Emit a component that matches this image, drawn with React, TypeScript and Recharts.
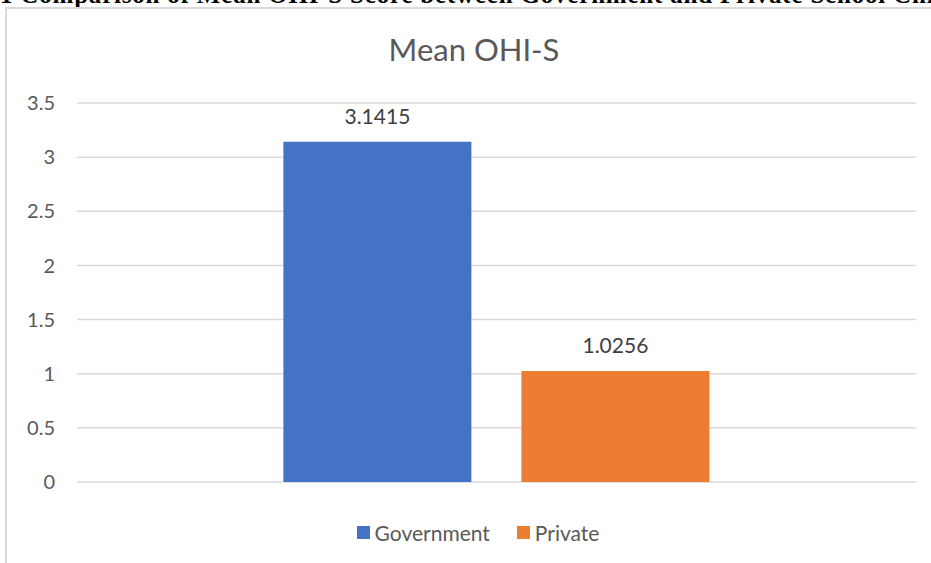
import React from 'react';
import { BarChart, Bar, XAxis, YAxis, CartesianGrid, Legend, LabelList } from 'recharts';

const categories = ['Mean OHI-S'];
const governmentValues = [3.1415];
const privateValues = [1.0256];
const yTicks = [0, 0.5, 1, 1.5, 2, 2.5, 3, 3.5];

const data = categories.map((name, i) => ({
  name,
  Government: governmentValues[i],
  Private: privateValues[i],
}));

const font = 'Lato, "Open Sans", "Liberation Sans", sans-serif';

function LegendContent({ payload }: any) {
  return (
    <div
      style={{
        height: 62,
        paddingLeft: 40,
        boxSizing: 'border-box',
        display: 'flex',
        alignItems: 'flex-end',
        justifyContent: 'center',
      }}
    >
      {(payload || []).map((p: any, i: number) => (
        <div
          key={p.value}
          style={{ display: 'flex', alignItems: 'center', marginLeft: i === 0 ? 0 : 27, height: 24 }}
        >
          <span style={{ width: 13, height: 13, background: p.color, display: 'inline-block', marginRight: 5 }} />
          <span style={{ fontFamily: font, fontSize: 21, color: '#595959' }}>{p.value}</span>
        </div>
      ))}
    </div>
  );
}

export default function App() {
  return (
    <div style={{ position: 'absolute', left: 0, top: 0, width: 931, height: 563, overflow: 'hidden', background: '#fff' }}>
      <div
        style={{
          position: 'absolute',
          left: 0,
          top: -17,
          lineHeight: '24px',
          whiteSpace: 'nowrap',
          fontFamily: '"Liberation Serif", serif',
          fontWeight: 'bold',
          fontSize: 25,
          letterSpacing: 0.8,
          color: '#000',
        }}
      >
        1 Comparison of Mean OHI-S Score between Government and Private School Children
      </div>
      <div
        style={{
          position: 'absolute',
          left: 5,
          top: 7,
          width: 960,
          height: 600,
          border: '2px solid #d9d9d9',
          boxSizing: 'border-box',
          background: '#fff',
        }}
      />
      <div
        style={{
          position: 'absolute',
          left: 0,
          width: 948,
          top: 30,
          textAlign: 'center',
          fontFamily: font,
          fontSize: 31,
          color: '#595959',
        }}
      >
        Mean OHI-S
      </div>
      <div style={{ position: 'absolute', left: 0, top: 0 }}>
        <BarChart
          width={931}
          height={563}
          data={data}
          margin={{ top: 103, right: 15, bottom: 19, left: 0 }}
          barCategoryGap="24.6%"
          barGap={50}
        >
          <CartesianGrid vertical={false} stroke="#d9d9d9" strokeWidth={1.5} />
          <XAxis dataKey="name" hide />
          <YAxis
            domain={[0, 3.5]}
            ticks={yTicks}
            width={77}
            axisLine={false}
            tickLine={false}
            tickSize={0}
            tickMargin={22}
            tick={{ fill: '#595959', fontSize: 20, fontFamily: font }}
          />
          <Legend verticalAlign="bottom" content={<LegendContent />} />
          <Bar dataKey="Government" fill="#4472C4" isAnimationActive={false}>
            <LabelList dataKey="Government" position="top" offset={18} fill="#404040" fontSize={21} fontFamily={font} />
          </Bar>
          <Bar dataKey="Private" fill="#ED7D31" isAnimationActive={false}>
            <LabelList dataKey="Private" position="top" offset={18} fill="#404040" fontSize={21} fontFamily={font} />
          </Bar>
        </BarChart>
      </div>
    </div>
  );
}
